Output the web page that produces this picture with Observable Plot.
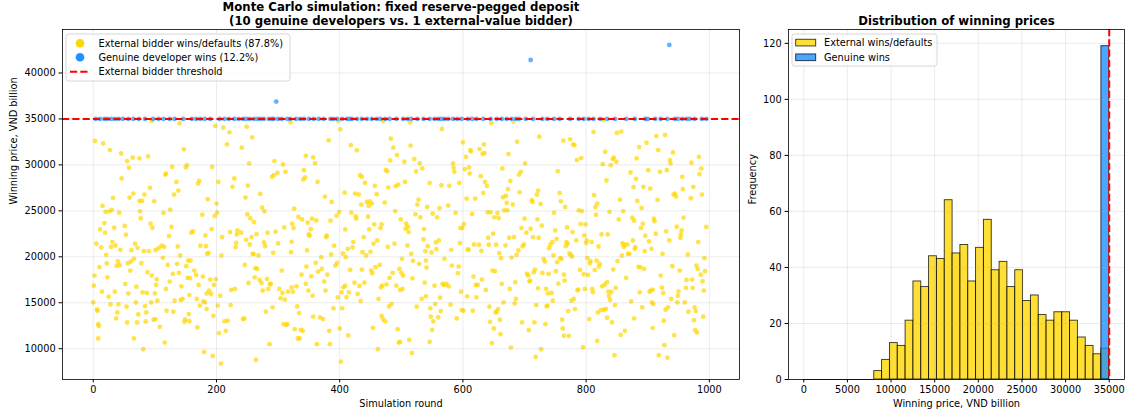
<!DOCTYPE html>
<html><head><meta charset="utf-8">
<script src="https://cdn.jsdelivr.net/npm/d3@7"></script>
<script src="https://cdn.jsdelivr.net/npm/@observablehq/plot@0.6"></script>
<style>
body{margin:0;background:#fff;}
#wrap{position:relative;width:1125px;height:414px;font-family:"DejaVu Sans",sans-serif;background:#fff;}
#left{position:absolute;left:0;top:0;}
#right{position:absolute;left:745px;top:0;}
</style></head><body><div id="wrap"><div id="left"></div><div id="right"></div></div>
<script>
// ---------- data ----------
const threshold = 35000;
const scatterTitle = ["Monte Carlo simulation: fixed reserve-pegged deposit", "(10 genuine developers vs. 1 external-value bidder)"];
const histTitle = "Distribution of winning prices";
const scatterLegend = ["External bidder wins/defaults (87.8%)", "Genuine developer wins (12.2%)", "External bidder threshold"];
const histLegend = ["External wins/defaults", "Genuine wins"];
const roundTicks = [0, 200, 400, 600, 800, 1000];
const priceTicks = [10000, 15000, 20000, 25000, 30000, 35000, 40000];
const histPriceTicks = [0, 5000, 10000, 15000, 20000, 25000, 30000, 35000];
const freqTicks = [0, 20, 40, 60, 80, 100, 120];

// [simulation round, winning price] where the external bidder wins / defaults
const externalWins = [
[3,32600],[16,32340],[27,31610],[45,31250],[55,30410],[64,30780],[75,30700],[89,30920],[58,29680],[117,28950],[46,28520],[32,26400],[65,26880],[92,27500],[15,25530],[59,26440],[75,26080],[79,26080],[83,26770],[99,26040],[20,24880],[26,24950],[30,25090],[42,24800],[76,24950],[114,24770],[77,24180],[93,23600],[96,23160],[18,23670],[11,22980],[19,22620],[34,23160],[51,23350],[53,22400],[5,21420],[13,21010],[29,21090],[31,21600],[36,21230],[44,20760],[62,20720],[68,21420],[72,20980],[82,20610],[90,20610],[101,20720],[106,20940],[111,21200],[115,21090],[21,20210],[113,19890],[10,18870],[22,19270],[40,19490],[38,19010],[43,19080],[56,19300],[61,19490],[66,19780],[78,19300],[88,18320],[95,17960],[103,17550],[2,17960],[60,18500],[23,17770],[1,16860],[14,16210],[35,16210],[52,17050],[70,16750],[80,16130],[87,16060],[100,16020],[102,16940],[25,15660],[57,16020],[104,15220],[0,15040],[6,14240],[7,14130],[28,14820],[41,14820],[69,15040],[54,14570],[84,14640],[94,15040],[39,13950],[73,13730],[86,13950],[37,13290],[55,12850],[71,12850],[85,12960],[98,13150],[101,13220],[8,12670],[9,12490],[108,12380],[8,11110],[66,11110],[81,9940],[116,10670],[95,34780],
[140,34530],[198,34240],[211,34050],[221,33540],[147,31690],[217,32230],[241,31870],[118,29060],[128,29790],[150,29720],[152,29970],[193,29790],[135,28150],[138,27210],[131,26770],[170,27970],[172,28260],[203,28150],[229,28520],[226,27610],[186,26260],[125,25130],[200,25790],[177,24580],[197,24440],[127,23240],[159,22620],[162,22760],[192,23020],[182,22330],[201,24800],[123,22250],[222,22690],[233,22430],[234,22870],[240,22620],[137,21120],[174,21200],[183,21160],[185,20320],[187,20430],[209,22140],[231,21050],[232,21520],[208,20140],[141,20140],[121,19120],[136,19230],[154,19590],[158,19590],[129,18140],[139,18250],[151,18980],[153,17700],[157,17670],[164,18500],[167,18030],[143,16790],[124,17300],[118,16500],[171,16940],[178,17850],[190,17520],[199,17560],[196,16940],[184,16020],[191,15950],[188,16320],[230,16500],[224,16390],[206,15770],[142,15300],[156,15840],[132,15220],[145,15410],[168,15410],[179,15150],[181,15040],[173,14680],[184,14310],[202,14680],[223,14750],[119,14130],[130,14020],[155,13770],[149,13180],[148,12930],[156,13000],[195,13580],[213,12970],[218,13040],[243,13220],[169,12310],[215,11950],[204,11690],[180,9650],[194,9210],[207,8380],
[249,34160],[320,34640],[258,33000],[345,30990],[357,30810],[360,30190],[253,30160],[294,30410],[308,30050],[312,29250],[290,28700],[293,28880],[299,29140],[342,29430],[341,28410],[344,28630],[364,28150],[251,27750],[271,26840],[247,26440],[274,25350],[278,24950],[326,25240],[250,24620],[255,24180],[261,23780],[265,22470],[257,22140],[248,21850],[254,21340],[277,21560],[279,21160],[283,22620],[296,22730],[310,23200],[323,23600],[325,23130],[300,21450],[322,21630],[333,24330],[339,24070],[348,23710],[355,24150],[362,23960],[353,23020],[350,22430],[351,22290],[347,20690],[292,20430],[321,20500],[259,20320],[260,20290],[268,20140],[246,19120],[263,18760],[266,18680],[252,17150],[262,17770],[270,17480],[273,17150],[282,17590],[287,17010],[288,17050],[275,16320],[284,16500],[302,16500],[304,15480],[307,16060],[311,15330],[316,16210],[324,16210],[322,16680],[330,16790],[345,17050],[306,18500],[338,18060],[354,17880],[361,19340],[370,19960],[346,18940],[356,15770],[349,16320],[365,18390],[280,14020],[291,14500],[245,13290],[331,14600],[334,13880],[357,13480],[368,13400],[309,12670],[315,12670],[313,12600],[327,12130],[332,11110],[335,11110],[337,12060],[340,11950],[363,10490],[286,10490],[264,8780],
[398,34780],[471,34780],[401,33870],[382,32670],[418,32160],[428,31580],[483,32850],[487,31870],[493,31070],[482,30480],[433,28880],[436,28700],[475,29430],[477,29320],[441,28040],[457,27720],[479,27530],[491,27680],[408,26990],[425,26880],[431,26770],[376,26550],[387,25970],[435,25680],[444,25970],[447,25530],[449,26040],[452,25790],[460,26810],[473,25900],[490,24980],[395,24470],[399,24880],[419,24800],[426,24400],[427,24150],[446,24370],[385,23930],[456,23530],[468,23530],[466,23130],[448,22980],[409,22980],[378,22140],[379,22330],[391,21200],[439,22140],[422,21600],[413,20870],[421,21010],[405,20360],[410,19960],[386,20250],[437,20500],[443,20140],[450,20540],[455,21420],[461,21780],[478,21090],[489,21420],[396,19340],[393,19050],[380,18060],[371,18680],[417,18570],[436,18610],[451,18500],[453,18210],[458,18870],[465,19120],[486,18250],[481,17700],[497,18680],[375,17300],[406,16680],[409,16860],[424,17190],[432,16830],[440,17190],[469,16860],[467,16680],[476,17010],[492,16860],[403,16130],[415,16130],[429,15950],[377,16320],[397,15590],[411,15620],[434,15190],[463,15410],[480,14600],[484,14860],[390,14390],[404,14390],[468,13580],[470,13220],[474,12970],[373,13220],[454,12270],[494,12130],[383,11950],[400,12200],[414,11440],[384,10490],[462,9940],[402,8600],[496,10670],
[514,34600],[566,33910],[515,32090],[600,32450],[612,31610],[613,31470],[605,30880],[505,30340],[521,30630],[530,30190],[534,29610],[524,29280],[584,30160],[585,29680],[586,29250],[603,29540],[610,29720],[611,29060],[495,27860],[506,28150],[546,28040],[565,27790],[578,27720],[594,28040],[606,26330],[620,26330],[528,26220],[526,25680],[542,25420],[562,25280],[576,25570],[551,24690],[558,24290],[523,24620],[531,24290],[588,24770],[615,24660],[499,24070],[508,23600],[507,23050],[511,23240],[512,22690],[537,23020],[602,23560],[596,23130],[599,23160],[536,21890],[561,21780],[556,21560],[543,21160],[549,20470],[539,20610],[557,20830],[510,21230],[581,20760],[595,21490],[608,20800],[609,20760],[618,21340],[516,20320],[501,19780],[519,19560],[529,19230],[540,19590],[541,18830],[570,19780],[582,19050],[593,18940],[592,18210],[500,18250],[503,17960],[518,17660],[617,17850],[538,17190],[554,16860],[567,17050],[569,16940],[573,17050],[577,16790],[498,16390],[502,16500],[597,16210],[607,15700],[621,16940],[533,15410],[540,15700],[563,15550],[555,14860],[580,14790],[547,14390],[564,14100],[525,14570],[598,14200],[601,14130],[616,14130],[548,13480],[552,12970],[560,13400],[590,13290],[550,12060],[498,10740],[513,10960],[546,10740],[517,9540],
[646,34530],[682,34710],[724,33070],[634,32230],[627,31720],[632,31210],[635,31280],[674,31180],[688,32520],[701,30160],[664,29610],[694,29250],[691,28950],[677,28260],[629,28770],[636,28150],[639,27720],[633,26950],[673,27350],[692,27020],[665,26480],[670,26620],[671,25860],[681,25680],[712,26150],[713,25970],[722,27210],[720,26770],[726,25750],[667,25060],[672,25060],[640,24840],[645,24840],[656,24770],[651,24290],[658,24220],[748,24800],[700,24150],[721,24070],[728,23380],[649,22510],[641,22070],[675,22070],[683,22140],[695,23130],[703,22620],[710,23050],[714,22140],[723,22070],[626,21310],[642,21310],[654,21310],[669,21230],[699,21340],[697,21160],[690,20690],[687,20210],[630,20650],[659,20400],[662,19850],[679,19920],[745,21600],[740,20940],[742,21310],[731,19780],[733,19490],[747,20140],[648,18500],[652,18430],[631,17520],[624,16940],[637,16390],[663,17050],[676,16500],[685,17230],[704,18140],[706,17960],[715,18320],[717,18610],[722,16570],[708,17300],[709,17410],[729,18250],[739,18140],[738,16020],[735,16500],[744,16060],[746,15220],[622,15590],[643,14570],[666,15040],[686,15410],[684,14930],[719,14750],[737,14680],[736,14600],[657,14310],[655,14020],[653,13950],[660,13150],[644,12930],[650,12200],[661,11580],[696,12860],[707,12020],[716,12860],[734,12670],[647,10600],[678,10120],[727,9940],[718,9100],
[828,34890],[763,32630],[774,32780],[779,32230],[781,32160],[812,33580],[850,33470],[857,33620],[831,31430],[785,30520],[792,30740],[827,30080],[840,29970],[843,30630],[845,30780],[849,30340],[754,29320],[833,28300],[872,29170],[757,26950],[759,26040],[766,25420],[788,25060],[793,24980],[813,26700],[818,25790],[815,25420],[816,24580],[855,26220],[860,24980],[838,24880],[853,24070],[875,24260],[750,22870],[769,23200],[752,21960],[791,23560],[799,23530],[778,22690],[768,21600],[767,21160],[770,21420],[784,21780],[797,22330],[801,21780],[800,21490],[809,21600],[820,21120],[825,22430],[835,22430],[859,21490],[861,21090],[862,21310],[867,21340],[876,21780],[870,20320],[868,20320],[858,20140],[851,19520],[773,20360],[775,20210],[777,20030],[760,19780],[758,19850],[753,19410],[802,19850],[807,19520],[806,19300],[817,19590],[822,19230],[821,18940],[844,18610],[790,18570],[796,18100],[803,18030],[814,18570],[751,18430],[764,18060],[755,17080],[765,17410],[865,17700],[834,17230],[830,16970],[826,16790],[786,16350],[787,16430],[798,16500],[810,16500],[811,16130],[836,16210],[841,16170],[848,16610],[837,15730],[839,15300],[776,15220],[780,15410],[847,14750],[873,15150],[771,14100],[782,14310],[805,13220],[819,13950],[824,14200],[829,14240],[832,14310],[834,13370],[842,12860],[761,13150],[762,12200],[764,11400],[772,11400],[856,11510],[863,11950],[818,10850],[795,10160],[846,9290],
[914,33140],[928,33250],[898,32410],[886,31940],[917,31610],[941,31360],[882,30700],[936,30520],[937,30160],[983,30880],[971,30230],[901,29430],[920,29250],[931,29430],[987,29610],[984,28990],[881,28480],[956,28700],[877,27570],[893,27610],[904,27420],[916,26190],[974,27610],[957,27350],[942,26770],[944,26880],[946,26550],[970,26370],[988,26770],[883,26080],[890,25310],[878,23930],[892,23600],[889,23130],[910,24150],[911,23860],[896,22290],[902,21670],[913,22510],[930,22760],[935,21780],[947,23270],[955,22870],[954,22430],[953,22070],[958,24260],[995,23240],[982,21600],[880,21050],[879,20870],[895,20610],[906,20870],[924,20320],[965,20250],[992,19850],[885,18900],[888,18870],[894,18680],[940,18980],[952,18500],[979,19050],[981,18680],[986,18060],[921,17960],[972,17520],[963,17480],[989,17340],[993,18430],[887,16130],[903,16210],[905,16320],[908,16430],[923,16640],[925,16060],[938,15410],[949,15770],[950,16240],[962,16610],[973,16610],[991,16320],[907,15040],[909,14860],[929,14240],[933,14500],[948,15040],[960,15040],[976,14500],[978,14100],[966,14020],[990,13480],[891,14500],[878,13290],[926,13040],[975,13110],[908,12240],[977,12020],[980,11760],[943,11470],[927,10380],[918,9290],[932,9030]
];

// rounds where a genuine developer wins at the threshold price
const genuineAtThreshold = [4,11,18,23,29,35,41,48,57,65,74,84,97,106,114,124,132,146,160,167,174,181,190,205,213,220,229,236,243,248,254,261,267,272,277,285,290,293,300,306,315,320,329,336,342,350,358,366,374,385,390,396,404,412,416,420,428,436,444,452,460,466,474,481,492,503,510,516,526,536,546,554,560,565,570,576,584,591,598,608,615,622,633,645,655,663,671,679,686,691,702,714,729,737,748,757,774,788,796,804,812,823,834,847,865,879,896,900,912,921,932,944,949,956,963,968,976,988,995];
// genuine wins above the threshold
const genuineAbove = [[297,36890],[710,41410],[935,43050]];

// histogram: 39 equal bins between 0 and 35000
const histBinCount = 39;
const histMax = 35000;
const externalCounts = [0,0,0,0,0,0,0,0,0,3,7,13,12,21,35,33,44,43,64,45,48,35,47,57,39,42,33,39,28,30,23,21,24,24,21,15,12,9,11];
const genuineCounts  = [0,0,0,0,0,0,0,0,0,0,0,0,0,0,0,0,0,0,0,0,0,0,0,0,0,0,0,0,0,0,0,0,0,0,0,0,0,0,119];

// ---------- styling ----------
const FONT = "DejaVu Sans";
const GOLD = "#FFD700", BLUE = "#1E90FF";
const tickFs = 9.77, titleFs = 11.72;
const gridStyle = {stroke: "#b0b0b0", strokeOpacity: 0.3, strokeWidth: 0.8};
const axisOpts = {tickSize: 3.4, tickPadding: 3.4, tickFormat: "d", label: null, fontSize: tickFs};
const dash = "7.2,3.1";
const txt = {text: d => d, lineAnchor: "middle", fontSize: tickFs};

const ext = externalWins.map(([round, price]) => ({round, price}));
const gen = genuineAtThreshold.map(round => ({round, price: threshold}))
  .concat(genuineAbove.map(([round, price]) => ({round, price})));

// ---------- scatter ----------
const scatter = Plot.plot({
  width: 745, height: 414,
  marginLeft: 62, marginRight: 6, marginTop: 29, marginBottom: 35,
  style: {fontFamily: FONT, fontSize: tickFs + "px", background: "white", overflow: "visible"},
  x: {domain: [-49.95, 1048.95]},
  y: {domain: [6650, 44730]},
  marks: [
    Plot.dot(ext, {x: "round", y: "price", r: 2.4, fill: GOLD, fillOpacity: 0.7}),
    Plot.dot(gen, {x: "round", y: "price", r: 2.4, fill: BLUE, fillOpacity: 0.7}),
    Plot.gridX({ticks: roundTicks, ...gridStyle}),
    Plot.gridY({ticks: priceTicks, ...gridStyle}),
    Plot.ruleY([threshold], {stroke: "red", strokeWidth: 2, strokeDasharray: dash}),
    Plot.frame({stroke: "black", strokeWidth: 0.8}),
    Plot.axisX({ticks: roundTicks, ...axisOpts}),
    Plot.axisY({ticks: priceTicks, ...axisOpts}),
    Plot.text(["Simulation round"], {...txt, frameAnchor: "bottom", dy: 24}),
    Plot.text(["Winning price, VND billion"], {...txt, frameAnchor: "left", dx: -48.5, rotate: -90}),
    Plot.text([scatterTitle[0]], {...txt, frameAnchor: "top", dy: -22.75, fontSize: titleFs, fontWeight: "bold"}),
    Plot.text([scatterTitle[1]], {...txt, frameAnchor: "top", dy: -8.75, fontSize: titleFs, fontWeight: "bold"})
  ]
});

// legend (matplotlib style)
{
  const g = d3.select(scatter).append("g").attr("font-family", FONT).attr("font-size", tickFs).attr("text-anchor", "start");
  g.append("rect").attr("x", 66).attr("y", 34).attr("width", 224).attr("height", 47).attr("rx", 2.5)
    .attr("fill", "white").attr("fill-opacity", 0.8).attr("stroke", "#cccccc").attr("stroke-width", 0.8);
  const rows = [43.3, 57.3, 71.7];
  g.append("circle").attr("cx", 80).attr("cy", rows[0]).attr("r", 4.3).attr("fill", GOLD);
  g.append("circle").attr("cx", 80).attr("cy", rows[1]).attr("r", 4.3).attr("fill", BLUE);
  g.append("line").attr("x1", 70).attr("x2", 90).attr("y1", rows[2]).attr("y2", rows[2])
    .attr("stroke", "red").attr("stroke-width", 2).attr("stroke-dasharray", dash);
  scatterLegend.forEach((t, i) => g.append("text").attr("x", 98.5).attr("y", rows[i]).attr("dy", "0.35em").attr("text-anchor", "start").text(t));
}
document.getElementById("left").appendChild(scatter);

// ---------- histogram ----------
const edges = d3.range(histBinCount + 1).map(i => i * histMax / histBinCount);
const extBins = externalCounts.map((count, i) => ({x1: edges[i], x2: edges[i + 1], count}));
const genBins = genuineCounts.map((count, i) => ({x1: edges[i], x2: edges[i + 1], count}));
const barStyle = {stroke: "black", strokeOpacity: 0.8, strokeWidth: 0.9, fillOpacity: 0.8};

const hist = Plot.plot({
  width: 380, height: 414,
  marginLeft: 43, marginRight: 1, marginTop: 29, marginBottom: 35,
  style: {fontFamily: FONT, fontSize: tickFs + "px", background: "white", overflow: "visible"},
  x: {domain: [-1750, 36750]},
  y: {domain: [0, 124.95]},
  marks: [
    Plot.ruleY(extBins.filter(d => d.count === 0), {x1: "x1", x2: "x2", y: () => 0, stroke: "black", strokeOpacity: 0.8, strokeWidth: 0.9}),
    Plot.rect(extBins.filter(d => d.count > 0), {x1: "x1", x2: "x2", y1: () => 0, y2: "count", fill: GOLD, ...barStyle}),
    Plot.rect(genBins.filter(d => d.count > 0), {x1: "x1", x2: "x2", y1: () => 0, y2: "count", fill: BLUE, ...barStyle}),
    Plot.gridX({ticks: histPriceTicks, ...gridStyle}),
    Plot.gridY({ticks: freqTicks, ...gridStyle}),
    Plot.ruleX([threshold], {stroke: "red", strokeWidth: 2, strokeDasharray: dash}),
    Plot.frame({stroke: "black", strokeWidth: 0.8}),
    Plot.axisX({ticks: histPriceTicks, ...axisOpts}),
    Plot.axisY({ticks: freqTicks, ...axisOpts}),
    Plot.text(["Winning price, VND billion"], {...txt, frameAnchor: "bottom", dy: 24}),
    Plot.text(["Frequency"], {...txt, frameAnchor: "left", dx: -35.7, rotate: -90}),
    Plot.text([histTitle], {...txt, frameAnchor: "top", dy: -8.75, fontSize: titleFs, fontWeight: "bold"})
  ]
});
{
  const g = d3.select(hist).append("g").attr("font-family", FONT).attr("font-size", tickFs).attr("text-anchor", "start");
  g.append("rect").attr("x", 47).attr("y", 34).attr("width", 145).attr("height", 32).attr("rx", 2.5)
    .attr("fill", "white").attr("fill-opacity", 0.8).attr("stroke", "#cccccc").attr("stroke-width", 0.8);
  const rows = [42.6, 57.3];
  [GOLD, BLUE].forEach((c, i) => g.append("rect").attr("x", 50.7).attr("y", rows[i] - 3.35).attr("width", 20).attr("height", 6.7)
    .attr("fill", c).attr("fill-opacity", 0.8).attr("stroke", "black").attr("stroke-opacity", 0.8).attr("stroke-width", 0.9));
  histLegend.forEach((t, i) => g.append("text").attr("x", 79).attr("y", rows[i]).attr("dy", "0.35em").attr("text-anchor", "start").text(t));
}
document.getElementById("right").appendChild(hist);
</script></body></html>
